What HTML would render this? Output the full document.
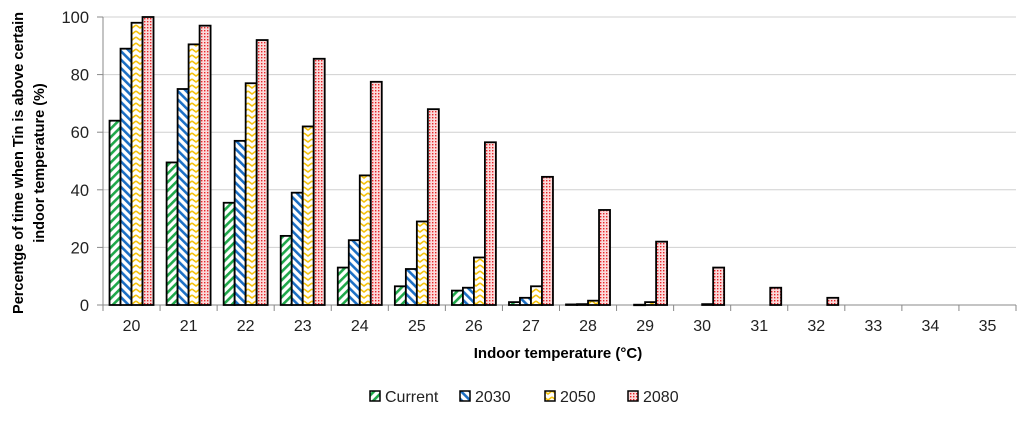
<!DOCTYPE html>
<html><head><meta charset="utf-8"><style>
body{margin:0;background:#fff;width:1024px;height:420px;overflow:hidden}
text{font-family:"Liberation Sans","DejaVu Sans",sans-serif}
</style></head><body>
<svg id="chart" width="1024" height="420" xmlns="http://www.w3.org/2000/svg">
<defs>
<pattern id="pCur" width="6" height="6" patternUnits="userSpaceOnUse" patternTransform="rotate(45)"><rect width="6" height="6" fill="#fff"/><rect width="2.6" height="6" fill="#1fa84a"/></pattern>
<pattern id="p2030" width="6" height="6" patternUnits="userSpaceOnUse" patternTransform="rotate(-45)"><rect width="6" height="6" fill="#fff"/><rect width="2.6" height="6" fill="#1c6fc4"/></pattern>
<pattern id="p2050" width="8" height="6" patternUnits="userSpaceOnUse"><rect width="8" height="6" fill="#fff"/><path d="M0,1 L4,4 L8,1" stroke="#f5c20c" stroke-width="1.6" fill="none"/></pattern>
<pattern id="p2080" width="3" height="3" patternUnits="userSpaceOnUse"><rect width="3" height="3" fill="#fbdada"/><rect width="1.4" height="1.4" fill="#e8262a"/></pattern>
</defs>
<g id="grid"></g><g id="bars"></g><g id="axes"></g>
<text x="558" y="358" text-anchor="middle" font-size="15" font-weight="bold">Indoor temperature (°C)</text>
<g transform="translate(23,163) rotate(-90)">
<text x="0" y="0" text-anchor="middle" font-size="14.5" font-weight="bold">Percentge of time when Tin is above certain</text>
<text x="0" y="21" text-anchor="middle" font-size="14.5" font-weight="bold">indoor temperature (%)</text>
</g>
<g id="legend"></g>
</svg>
<script>
const categories=["20","21","22","23","24","25","26","27","28","29","30","31","32","33","34","35"];
const seriesNames=["Current","2030","2050","2080"];
const valsCurrent=[64,49.5,35.5,24,13,6.5,5,1,0.2,0,0,0,0,0,0,0];
const vals2030=[89,75,57,39,22.5,12.5,6,2.5,0.3,0.1,0,0,0,0,0,0];
const vals2050=[98,90.5,77,62,45,29,16.5,6.5,1.5,1,0.3,0,0,0,0,0];
const vals2080=[100,97,92,85.5,77.5,68,56.5,44.5,33,22,13,6,2.5,0,0,0];
const yTicks=[0,20,40,60,80,100];
const series=[valsCurrent,vals2030,vals2050,vals2080];
const fills=["url(#pCur)","url(#p2030)","url(#p2050)","url(#p2080)"];
const NS="http://www.w3.org/2000/svg";
const L=103,R=1016,T=17,B=305;
const cw=(R-L)/categories.length;
const y=v=>B-(v/100)*(B-T);
const xc=i=>L+cw*(i+0.5);
function mk(tag,attrs,parent){const e=document.createElementNS(NS,tag);for(const k in attrs)e.setAttribute(k,attrs[k]);parent.appendChild(e);return e;}
const grid=document.getElementById('grid'),bars=document.getElementById('bars'),axes=document.getElementById('axes'),legend=document.getElementById('legend');
yTicks.forEach(t=>{
 const g=mk('line',{x1:L,x2:R,y1:y(t),y2:y(t),stroke:t===0?'#888':'#d0d0d0','stroke-width':1},grid);
 
 
 mk('line',{x1:L-6,x2:L,y1:y(t),y2:y(t),stroke:'#888'},axes);
 const tx=mk('text',{x:L-14,y:y(t)+6,'text-anchor':'end','font-size':16.5,fill:'#222'},axes);
 tx.textContent=t;
 
 
});
mk('line',{x1:L,x2:L,y1:T,y2:B,stroke:'#888'},axes);
const bw=11;
categories.forEach((c,i)=>{
 mk('line',{x1:L+cw*i,x2:L+cw*i,y1:B,y2:B+6,stroke:'#888'},axes);
 const tx=mk('text',{x:xc(i),y:B+26,'text-anchor':'middle','font-size':16,fill:'#222'},axes);
 tx.textContent=c;
 
 
 series.forEach((s,k)=>{
  const v=s[i]; if(v<=0)return;
  const x0=xc(i)-2*bw+k*bw;
  const r=mk('rect',{x:x0,y:y(v),width:bw,height:Math.max(B-y(v),0.5),fill:fills[k],stroke:'#000','stroke-width':1.8},bars);
  
  
 });
});
mk('line',{x1:R,x2:R,y1:B,y2:B+6,stroke:'#888'},axes);
const lx=[376,466,551,634];
seriesNames.forEach((n,k)=>{
 const g=mk('g',{},legend);
 
 
 mk('rect',{x:lx[k]-6,y:391,width:10,height:10,fill:fills[k],stroke:'#000','stroke-width':1.5},g);
 const t=mk('text',{x:lx[k]+9,y:402,'font-size':16,fill:'#222'},g);
 t.textContent=n;
});
</script>
</body></html>
